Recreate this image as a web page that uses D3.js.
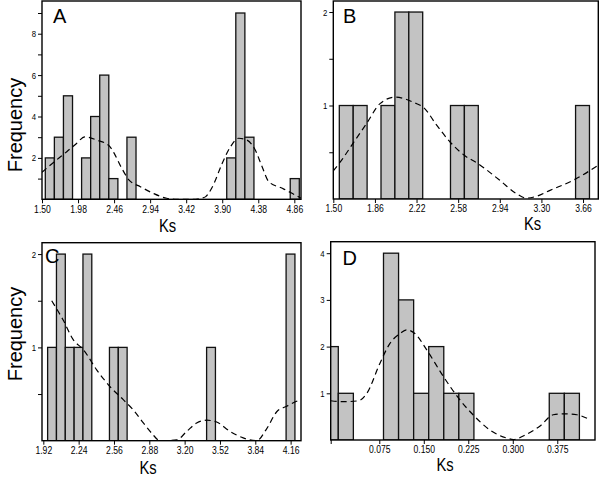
<!DOCTYPE html>
<html>
<head>
<meta charset="utf-8">
<script src="https://cdn.jsdelivr.net/npm/d3@7/dist/d3.min.js"></script>
<style>
  html, body { margin: 0; padding: 0; background: #fff; }
  svg { display: block; }
  text { font-family: 'Liberation Sans', Arial, Helvetica, sans-serif; }
</style>
</head>
<body>
<svg id="chart" width="600" height="478"></svg>
<script>
// ---------------- DATA ----------------
const panelNames = ["A", "B", "C", "D"];

// Histogram bins (lower edge of first bin, bin width, counts per bin)
const binStartA = 1.544, binWidthA = 0.1208;
const countsA = [2,3,5,0,2,4,6,1,0,3,0,0,0,0,0,0,0,0,0,0,2,9,3,0,0,0,0,1];
const binStartB = 1.552, binWidthB = 0.1202;
const countsB = [1,1,0,1,2,2,0,0,1,1,0,0,0,0,0,0,0,1];
const binStartC = 1.959, binWidthC = 0.08;
const countsC = [1,2,1,1,2,0,0,1,1,0,0,0,0,0,0,0,0,0,1,0,0,0,0,0,0,0,0,2];
const binStartD = -0.0195, binWidthD = 0.0254;
const countsD = [2,1,0,0,4,3,1,2,1,1,0,0,0,0,0,1,1];

// Density curves (Ks, scaled frequency)
const curveKsA = [1.50,1.60,1.70,1.83,1.96,2.07,2.23,2.39,2.46,2.55,2.66,2.81,2.98,3.16,3.30,3.50,3.62,3.68,3.77,3.90,4.01,4.12,4.23,4.34,4.43,4.52,4.70,4.83,4.95];
const curveVA  = [1.30,1.62,1.92,2.30,2.70,3.02,2.86,2.60,2.23,1.58,0.93,0.61,0.29,0.05,0.0,0.0,0.05,0.13,0.61,1.74,2.54,2.95,2.86,2.38,1.58,0.85,0.53,0.29,0.05];
const curveKsB = [1.50,1.58,1.673,1.789,1.904,2.034,2.12,2.20,2.28,2.394,2.51,2.63,2.75,2.94,3.08,3.17,3.26,3.37,3.59,3.79];
const curveVB  = [0.30,0.43,0.60,0.81,1.02,1.09,1.07,1.03,0.98,0.79,0.61,0.47,0.38,0.20,0.06,0.01,0.03,0.09,0.21,0.36];
const curveKsC = [1.996,2.101,2.192,2.28,2.403,2.524,2.644,2.735,2.826,2.902,2.977,3.13,3.219,3.309,3.40,3.49,3.61,3.73,3.853,3.944,4.034,4.125,4.23,4.254];
const curveVC  = [1.50,1.29,1.08,0.98,0.76,0.58,0.44,0.33,0.19,0.08,0.0,0.01,0.10,0.19,0.22,0.20,0.10,0.03,0.0,0.13,0.31,0.37,0.43,0.44];
const curveKsD = [-0.0069,0.014,0.040,0.054,0.076,0.093,0.110,0.121,0.135,0.155,0.183,0.209,0.233,0.262,0.290,0.301,0.323,0.346,0.368,0.385,0.408,0.426];
const curveVD  = [0.84,0.82,0.84,1.00,1.64,2.07,2.28,2.36,2.28,1.93,1.36,0.89,0.54,0.21,0.04,0.01,0.12,0.30,0.54,0.56,0.54,0.46];

// Axis ranges
const xDomainA = [1.50, 4.949], yDomainA = [0, 9.58];
const xDomainB = [1.50, 3.792], yDomainB = [0, 2.118];
const xDomainC = [1.908, 4.254], yDomainC = [0, 2.122];
const xDomainD = [-0.0069, 0.4386], yDomainD = [0, 4.246];

// Tick values
const xTicksA = [1.50,1.98,2.46,2.94,3.42,3.90,4.38,4.86];
const xTicksB = [1.50,1.86,2.22,2.58,2.94,3.30,3.66];
const xTicksC = [1.92,2.24,2.56,2.88,3.20,3.52,3.84,4.16];
const xTicksD = [0.075,0.150,0.225,0.300,0.375];
const yTicksA = [2,4,6,8], yMinorA = [1,3,5,7,9];
const yTicksB = [1,2], yMinorB = [0.5,1.5];
const yTicksC = [1,2], yMinorC = [0.5,1.5];
const yTicksD = [1,2,3,4], yMinorD = [];

const xTitle = "Ks";
const yTitle = "Frequency";

// ---------------- LAYOUT ----------------
const NARROW = 0.82; // horizontal condensing for the narrow-face texts
const layout = {
  A: {x0: 42,    x1: 301,   y0: 1,     y1: 199.3, letter: [53, 23],    ks: [167.5, 232], freq: [22, 125]},
  B: {x0: 333.3, x1: 598.3, y0: 1,     y1: 199,   letter: [343, 23],   ks: [532.5, 230], freq: null},
  C: {x0: 42,    x1: 301,   y0: 242.7, y1: 440.7, letter: [45, 263],   ks: [148, 474],   freq: [22, 334]},
  D: {x0: 330.7, x1: 595,   y0: 241.7, y1: 440,   letter: [342.5, 265], ks: [445, 471],  freq: null}
};

const panelData = {
  A: {start: binStartA, width: binWidthA, counts: countsA, cx: curveKsA, cy: curveVA, xd: xDomainA, yd: yDomainA, xt: xTicksA, yt: yTicksA, ym: yMinorA, fmt: d3.format(".2f")},
  B: {start: binStartB, width: binWidthB, counts: countsB, cx: curveKsB, cy: curveVB, xd: xDomainB, yd: yDomainB, xt: xTicksB, yt: yTicksB, ym: yMinorB, fmt: d3.format(".2f")},
  C: {start: binStartC, width: binWidthC, counts: countsC, cx: curveKsC, cy: curveVC, xd: xDomainC, yd: yDomainC, xt: xTicksC, yt: yTicksC, ym: yMinorC, fmt: d3.format(".2f")},
  D: {start: binStartD, width: binWidthD, counts: countsD, cx: curveKsD, cy: curveVD, xd: xDomainD, yd: yDomainD, xt: xTicksD, yt: yTicksD, ym: yMinorD, fmt: d3.format(".3f")}
};

const svg = d3.select("#chart");
const defs = svg.append("defs");

panelNames.forEach(name => {
  const L = layout[name], P = panelData[name];
  const x = d3.scaleLinear().domain(P.xd).range([L.x0, L.x1]);
  const y = d3.scaleLinear().domain(P.yd).range([L.y1, L.y0]);

  defs.append("clipPath").attr("id", "clip" + name)
    .append("rect").attr("x", L.x0).attr("y", L.y0)
    .attr("width", L.x1 - L.x0).attr("height", L.y1 - L.y0);

  const g = svg.append("g");
  const plot = g.append("g").attr("clip-path", "url(#clip" + name + ")");

  const bins = P.counts.map((c, i) => ({lo: P.start + i * P.width, hi: P.start + (i + 1) * P.width, c}))
    .filter(b => b.c > 0);

  plot.selectAll("rect.bar").data(bins).enter().append("rect")
    .attr("class", "bar")
    .attr("x", d => x(d.lo))
    .attr("width", d => x(d.hi) - x(d.lo))
    .attr("y", d => y(d.c))
    .attr("height", d => y(0) - y(d.c))
    .attr("fill", "#c3c3c3")
    .attr("stroke", "#111")
    .attr("stroke-width", 1.3);

  const pts = P.cx.map((k, i) => [k, P.cy[i]]);
  plot.append("path")
    .datum(pts)
    .attr("d", d3.line().x(d => x(d[0])).y(d => y(d[1])).curve(d3.curveMonotoneX))
    .attr("fill", "none")
    .attr("stroke", "#000")
    .attr("stroke-width", 1.2)
    .attr("stroke-dasharray", "6,4");

  // frame
  g.append("rect")
    .attr("x", L.x0).attr("y", L.y0)
    .attr("width", L.x1 - L.x0).attr("height", L.y1 - L.y0)
    .attr("fill", "none").attr("stroke", "#000").attr("stroke-width", 1.4);

  // x axis
  const xTickVals = name === "D" ? [P.xd[0]].concat(P.xt) : P.xt;
  const xAxis = d3.axisBottom(x).tickValues(xTickVals).tickSize(4).tickPadding(2)
    .tickFormat(d => (name === "D" && d === P.xd[0]) ? "" : P.fmt(d));
  const gx = g.append("g").attr("transform", `translate(0,${L.y1})`).call(xAxis);
  gx.select(".domain").remove();
  gx.selectAll("line").attr("stroke", "#000").attr("stroke-width", 1);
  gx.selectAll("text")
    .attr("font-family", "'Liberation Sans', Arial, sans-serif")
    .attr("font-size", 10.5).attr("fill", "#000")
    .attr("transform", `scale(${NARROW},1)`);

  // y axis
  const yAxis = d3.axisLeft(y).tickValues(P.yt).tickSize(4).tickPadding(2).tickFormat(d3.format("d"));
  const gy = g.append("g").attr("transform", `translate(${L.x0},0)`).call(yAxis);
  gy.select(".domain").remove();
  gy.selectAll("line").attr("stroke", "#000").attr("stroke-width", 1);
  gy.selectAll("text")
    .attr("font-family", "'Liberation Sans', Arial, sans-serif")
    .attr("font-size", 9.5).attr("fill", "#000")
    .attr("x", -6 / NARROW)
    .attr("transform", `scale(${NARROW},1)`);

  if (P.ym.length) {
    const gm = g.append("g").attr("transform", `translate(${L.x0},0)`)
      .call(d3.axisLeft(y).tickValues(P.ym).tickSize(4).tickFormat(""));
    gm.select(".domain").remove();
    gm.selectAll("line").attr("stroke", "#000").attr("stroke-width", 1);
  }

  // panel letter
  g.append("text")
    .attr("x", L.letter[0]).attr("y", L.letter[1])
    .attr("font-size", 20).attr("fill", "#000").text(name);

  // x title
  g.append("text")
    .attr("transform", `translate(${L.ks[0]},${L.ks[1]}) scale(${NARROW},1)`)
    .attr("text-anchor", "middle").attr("font-size", 18).attr("fill", "#000")
    .text(xTitle);

  // y title
  if (L.freq) {
    g.append("text")
      .attr("transform", `translate(${L.freq[0]},${L.freq[1]}) rotate(-90)`)
      .attr("text-anchor", "middle").attr("font-size", 20).attr("fill", "#000")
      .text(yTitle);
  }
});
</script>
</body>
</html>
